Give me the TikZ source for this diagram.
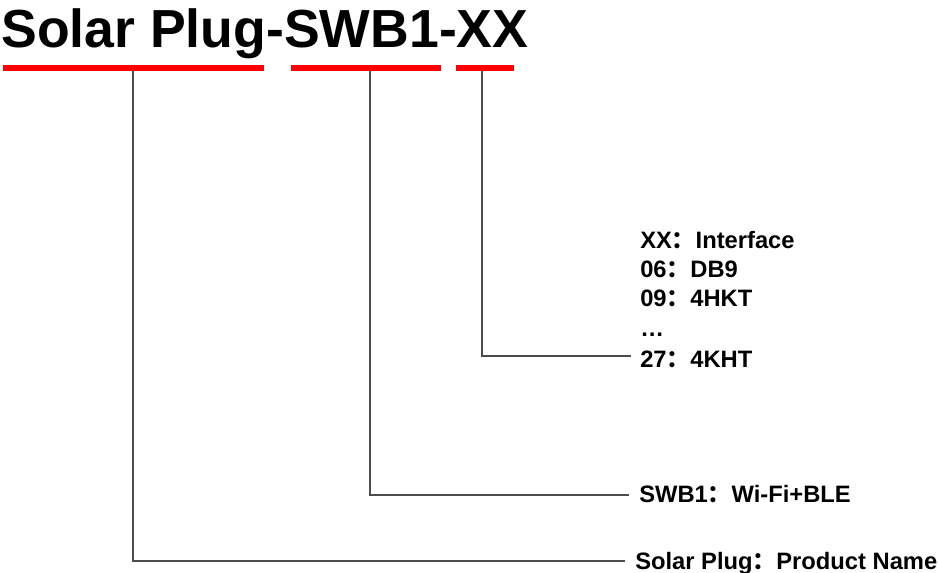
\documentclass[tikz,border=0pt]{standalone}
\usepackage{fontspec}
\setmainfont{Liberation Sans}
\newfontfamily\cjkfont{Noto Sans CJK SC}
\newcommand{\fwcolon}{{\cjkfont ：}}
\begin{document}
\begin{tikzpicture}[x=0.75pt,y=-0.75pt,
  lbl/.style={anchor=base west, inner sep=0, font=\fontsize{17.8}{21}\selectfont\bfseries},
  titlestyle/.style={anchor=base west, inner sep=0, font=\fontsize{40.2}{48}\selectfont\bfseries},
  redline/.style={draw=red, line width=4.1pt},
  conn/.style={draw=black!70, line width=0.9pt}]
\useasboundingbox (0,0) rectangle (938,573);

% title
\node[titlestyle] (title) at (1,48) {Solar Plug-SWB1-XX};

% connector start points (under the red lines) and end points
\coordinate (u1) at (133,68);
\coordinate (u2) at (370,68);
\coordinate (u3) at (482,68);
\coordinate (e1) at (625,561);
\coordinate (e2) at (629,495);
\coordinate (e3) at (631,356);

\draw[conn] (u1) |- (e1);
\draw[conn] (u2) |- (e2);
\draw[conn] (u3) |- (e3);

% red underlines
\coordinate (r1a) at (3,68);   \coordinate (r1b) at (264,68);
\coordinate (r2a) at (291,68); \coordinate (r2b) at (441,68);
\coordinate (r3a) at (456,68); \coordinate (r3b) at (514,68);
\draw[redline] (r1a) -- (r1b);
\draw[redline] (r2a) -- (r2b);
\draw[redline] (r3a) -- (r3b);

% labels
\node[lbl] (x1) at (640,249) {XX\fwcolon Interface};
\node[lbl] (x2) at (640,278) {06\fwcolon DB9};
\node[lbl] (x3) at (640,307) {09\fwcolon 4HKT};
\node[lbl] (x4) at (640,337) {…};
\node[lbl] (x5) at (640,367) {27\fwcolon 4KHT};
\node[lbl] (s2) at (639,502) {SWB1\fwcolon Wi-Fi+BLE};
\node[lbl] (s1) at (635,569) {Solar Plug\fwcolon Product Name};
\end{tikzpicture}
\end{document}
